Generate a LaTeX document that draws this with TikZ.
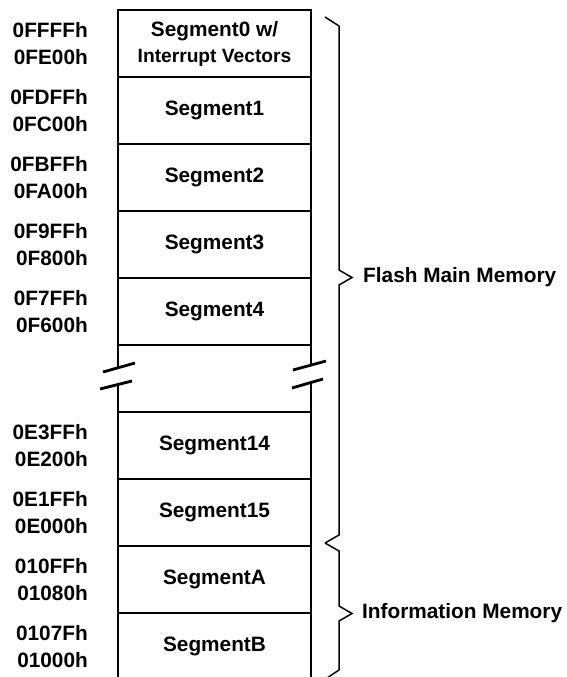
\documentclass[tikz,border=0pt]{standalone}
\usepackage{fontspec}
\setmainfont{Liberation Sans}
\usetikzlibrary{positioning}

\begin{document}
\begin{tikzpicture}[x=1pt,y=-1pt,line join=miter,
  seg/.style={draw,line width=2.8pt,minimum width=193pt,minimum height=67pt,inner sep=0pt,outer sep=0pt,align=center,font=\bfseries\fontsize{20.8}{26}\selectfont},
  addr/.style={align=right,inner sep=0pt,font=\bfseries\fontsize{20.8}{27.5}\selectfont},
  area/.style={inner sep=0pt,font=\bfseries\fontsize{20.8}{24}\selectfont},
  brace/.style={line width=1.5pt},
  cut/.style={line width=2.8pt}]
  \useasboundingbox (0,0) rectangle (566,677);
  % memory segments
  \node[seg] (seg0) at (214.5,43.5) {Segment0 w/\\\fontsize{19.2}{26}\selectfont Interrupt Vectors};
  \node[seg] (seg1)  [below=0pt of seg0]  {Segment1};
  \node[seg] (seg2)  [below=0pt of seg1]  {Segment2};
  \node[seg] (seg3)  [below=0pt of seg2]  {Segment3};
  \node[seg] (seg4)  [below=0pt of seg3]  {Segment4};
  \node[seg] (seg14) [below=67pt of seg4] {Segment14};
  \node[seg] (seg15) [below=0pt of seg14] {Segment15};
  \node[seg] (segA)  [below=0pt of seg15] {SegmentA};
  \node[seg] (segB)  [below=0pt of segA]  {SegmentB};
  %
  \node[addr] (adr0)  [left=30pt of seg0]  {0FFFFh\\0FE00h};
  \node[addr] (adr1)  [left=30pt of seg1]  {0FDFFh\\0FC00h};
  \node[addr] (adr2)  [left=30pt of seg2]  {0FBFFh\\0FA00h};
  \node[addr] (adr3)  [left=30pt of seg3]  {0F9FFh\\0F800h};
  \node[addr] (adr4)  [left=30pt of seg4]  {0F7FFh\\0F600h};
  \node[addr] (adr14) [left=30pt of seg14] {0E3FFh\\0E200h};
  \node[addr] (adr15) [left=30pt of seg15] {0E1FFh\\0E000h};
  \node[addr] (adrA)  [left=30pt of segA]  {010FFh\\01080h};
  \node[addr] (adrB)  [left=30pt of segB]  {0107Fh\\01000h};
  %
  % broken section
  \draw[cut] (seg4.south west) -- ++(0,22.5);
  \draw[cut] (seg14.north west) -- ++(0,-27);
  \draw[cut] (seg4.south east) -- ++(0,20.5);
  \draw[cut] (seg14.north east) -- ++(0,-29);
  \draw[cut] (103,372) -- (135,363);
  \draw[cut] (100,389) -- (132,381);
  \draw[cut] (293,370) -- (326,361);
  \draw[cut] (292,388) -- (323,379);
  %
  % braces
  \coordinate (tipF) at (352,277.5);
  \coordinate (tipI) at (352,613.5);
  \draw[brace] (325,17) -- (339,26) -- (339,270) -- (tipF) -- (339,285) -- (339,535) -- (325,543);
  \draw[brace] (325,543) -- (339,551) -- (339,606) -- (tipI) -- (339,621) -- (339,670) -- (327,678);
  \node[area] (flash) [right=11pt of tipF] {Flash Main Memory};
  \node[area] (info)  [right=10pt of tipI] {Information Memory};
\end{tikzpicture}
\end{document}
